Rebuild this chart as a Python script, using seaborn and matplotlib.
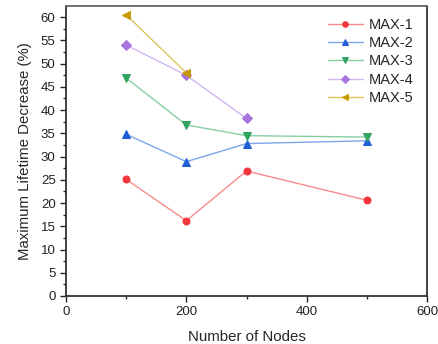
import matplotlib
matplotlib.use("Agg")
import matplotlib.pyplot as plt
import seaborn as sns
import pandas as pd
from matplotlib.ticker import MultipleLocator

sns.set_style("ticks")
plt.rcParams['font.family'] = ['Liberation Sans', 'DejaVu Sans']

nodes = [100, 200, 300, 500]
max1 = [25.1, 16.2, 26.9, 20.6]
max2 = [34.8, 28.9, 32.8, 33.4]
max3 = [46.9, 36.8, 34.5, 34.2]
max4 = [54.0, 47.5, 38.2, None]
max5 = [60.5, 48.0, None, None]
series_names = ["MAX-1", "MAX-2", "MAX-3", "MAX-4", "MAX-5"]

rows = []
for name, vals in zip(series_names, [max1, max2, max3, max4, max5]):
    for n, v in zip(nodes, vals):
        if v is not None:
            rows.append({"Nodes": n, "Value": v, "Series": name})
df = pd.DataFrame(rows)

marker_colors = {"MAX-1": "#F2363C", "MAX-2": "#1F5FD6", "MAX-3": "#30A460",
                 "MAX-4": "#A874DE", "MAX-5": "#C79A00"}
line_colors = {"MAX-1": "#F98A8C", "MAX-2": "#7FA6EA", "MAX-3": "#86CFA3",
               "MAX-4": "#D3B6F0", "MAX-5": "#E0C460"}
markers = {"MAX-1": "o", "MAX-2": "^", "MAX-3": "v", "MAX-4": "D", "MAX-5": "<"}
msize = {"MAX-1": 5, "MAX-2": 6, "MAX-3": 6, "MAX-4": 4.6, "MAX-5": 6}

fig = plt.figure(figsize=(4.38, 3.44), dpi=100)
ax = fig.add_axes([66/438, (344-296)/344, (427-66)/438, (296-6)/344])

for name in series_names:
    sub = df[df["Series"] == name]
    sns.lineplot(data=sub, x="Nodes", y="Value", ax=ax, color=line_colors[name],
                 linewidth=1.0, marker=markers[name], markersize=msize[name],
                 markerfacecolor=marker_colors[name], markeredgecolor=marker_colors[name],
                 label=name)

ax.set_xlim(0, 600)
ax.set_ylim(0, 62.4)
ax.xaxis.set_major_locator(MultipleLocator(200))
ax.xaxis.set_minor_locator(MultipleLocator(100))
ax.yaxis.set_major_locator(MultipleLocator(5))
ax.yaxis.set_minor_locator(MultipleLocator(2.5))
ax.tick_params(axis="both", which="major", direction="out", length=4, width=1,
               labelsize=9.5, colors="#222222")
ax.tick_params(axis="both", which="minor", direction="out", length=2.5, width=1)
for s in ax.spines.values():
    s.set_linewidth(1.3)
    s.set_color("#333333")
ax.spines["top"].set_color("#666666")
ax.set_xlabel("Number of Nodes", fontsize=10.8, labelpad=8)
ax.set_ylabel("Maximum Lifetime Decrease (%)", fontsize=10.8, labelpad=6)

leg = ax.legend(loc="upper right", frameon=False, fontsize=10.5, handlelength=2.4,
                labelspacing=0.3, borderaxespad=0.3, handletextpad=0.4,
                markerscale=0.8, bbox_to_anchor=(0.99, 0.995))

fig.savefig("out.png", dpi=100)
